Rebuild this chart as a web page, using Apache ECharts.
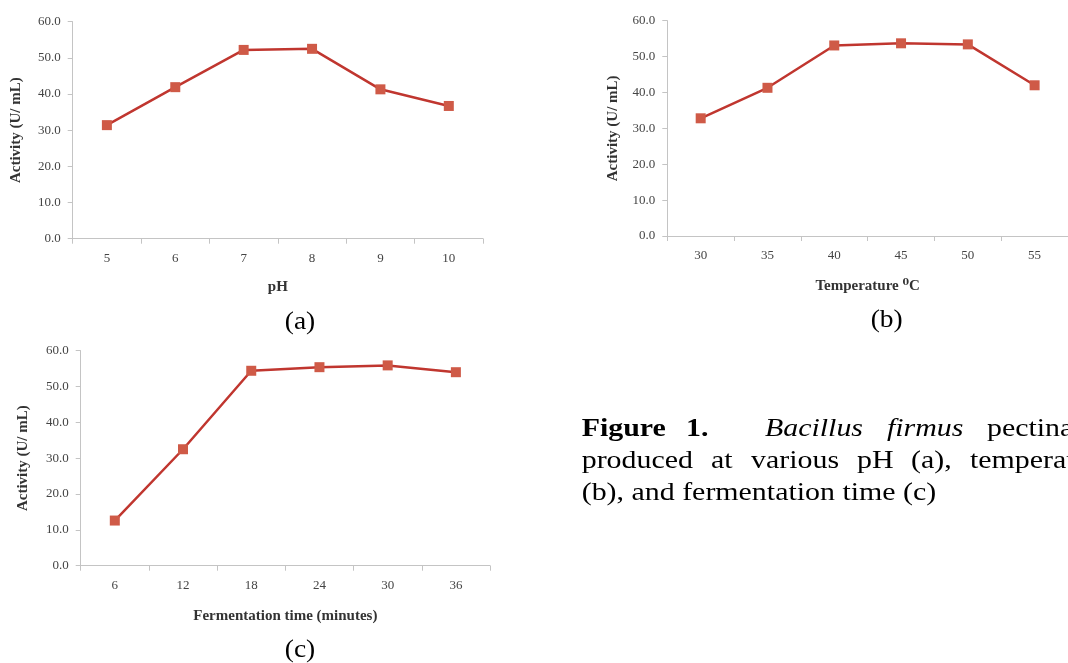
<!DOCTYPE html>
<html>
<head>
<meta charset="utf-8">
<script src="https://cdn.jsdelivr.net/npm/echarts@6/dist/echarts.min.js"></script>
<style>
html,body{margin:0;padding:0;background:#fff;}
#chart{width:1068px;height:663px;}
</style>
</head>
<body>
<div id="chart"></div>
<script>
// ---- data ----
const phCats = ['5', '6', '7', '8', '9', '10'];
const phVals = [31.4, 41.9, 52.2, 52.5, 41.3, 36.7];
const tempCats = ['30', '35', '40', '45', '50', '55'];
const tempVals = [32.8, 41.3, 53.1, 53.7, 53.4, 42.0];
const timeCats = ['6', '12', '18', '24', '30', '36'];
const timeVals = [12.6, 32.5, 54.4, 55.4, 55.9, 54.0];
const yMin = 0, yMax = 60, yStep = 10;
const yName = 'Activity (U/ mL)';
const xNames = ['pH', 'Temperature \u2070C', 'Fermentation time (minutes)'];
const panelLabels = ['(a)', '(b)', '(c)'];

const SERIF = '"Liberation Serif", "Times New Roman", "DejaVu Serif", serif';
const axisColor = '#c4c4c4';
const lineColor = '#c0362f';
const markColor = '#cf5a47';

const grids = [
  { left: 72.7, top: 21.7, right: 585, bottom: 424.3 },
  { left: 667.3, top: 20.7, right: -11.3, bottom: 427 },
  { left: 80.7, top: 350.7, right: 578, bottom: 97.3 }
];
const yGaps = [49, 47, 50];
const xGaps = [41, 43, 43];
const cats = [phCats, tempCats, timeCats];
const vals = [phVals, tempVals, timeVals];

const xAxes = cats.map((c, i) => ({
  type: 'category', gridIndex: i, data: c, boundaryGap: true,
  name: xNames[i], nameLocation: 'middle', nameGap: xGaps[i],
  nameTextStyle: { fontFamily: SERIF, fontWeight: 'bold', fontSize: 15, color: '#333' },
  axisLine: { lineStyle: { color: axisColor, width: 1 } },
  axisTick: { show: true, length: 5, lineStyle: { color: axisColor } },
  axisLabel: { margin: 13, fontFamily: SERIF, fontSize: 13, color: '#444' },
  splitLine: { show: false }
}));
const yAxes = cats.map((c, i) => ({
  type: 'value', gridIndex: i, min: yMin, max: yMax, interval: yStep,
  name: yName, nameLocation: 'middle', nameGap: yGaps[i],
  nameTextStyle: { fontFamily: SERIF, fontWeight: 'bold', fontSize: 15, color: '#333' },
  axisLine: { show: true, lineStyle: { color: axisColor, width: 1 } },
  axisTick: { show: true, length: 5, lineStyle: { color: axisColor } },
  axisLabel: { margin: 12, fontFamily: SERIF, fontSize: 13, color: '#444',
    formatter: v => v.toFixed(1) },
  splitLine: { show: false }
}));
const series = vals.map((v, i) => ({
  type: 'line', xAxisIndex: i, yAxisIndex: i, data: v,
  symbol: 'rect', symbolSize: 10, showSymbol: true,
  lineStyle: { color: lineColor, width: 2.5 },
  itemStyle: { color: markColor },
  emphasis: { disabled: true },
  animation: false
}));

// caption / panel labels
const capFont = 26, capScale = 1.15;
const labelPos = [[300, 322], [886.7, 320.7], [300, 650]];
const graphics = [];
panelLabels.forEach((t, i) => {
  graphics.push({ type: 'text', x: labelPos[i][0], y: labelPos[i][1], scaleX: 1.1,
    style: { text: t, fontFamily: SERIF, fontSize: 25, fill: '#000',
      align: 'center', verticalAlign: 'middle' } });
});
const l1 = 429.2, l2 = 461.2, l3 = 493.2;
const capWords = [
  ['Figure', 581.7, l1, { fontWeight: 'bold' }],
  ['1.', 686, l1, { fontWeight: 'bold' }],
  ['Bacillus', 765, l1, { fontStyle: 'italic' }],
  ['firmus', 887, l1, { fontStyle: 'italic' }],
  ['pectinase', 987, l1],
  ['produced', 581.7, l2],
  ['at', 711, l2],
  ['various', 751, l2],
  ['pH', 857, l2],
  ['(a),', 911, l2],
  ['temperature', 970, l2],
  ['(b), and fermentation time (c)', 581.7, l3]
];
capWords.forEach(w => {
  graphics.push({ type: 'text', x: w[1], y: w[2], scaleX: capScale,
    style: Object.assign({ text: w[0], fontFamily: SERIF, fontSize: capFont,
      fill: '#000', align: 'left', verticalAlign: 'middle' }, w[3] || {}) });
});

const chart = echarts.init(document.getElementById('chart'), null, { renderer: 'canvas' });
chart.setOption({
  backgroundColor: '#fff',
  animation: false,
  grid: grids,
  xAxis: xAxes,
  yAxis: yAxes,
  series: series,
  graphic: graphics
});
</script>
</body>
</html>
